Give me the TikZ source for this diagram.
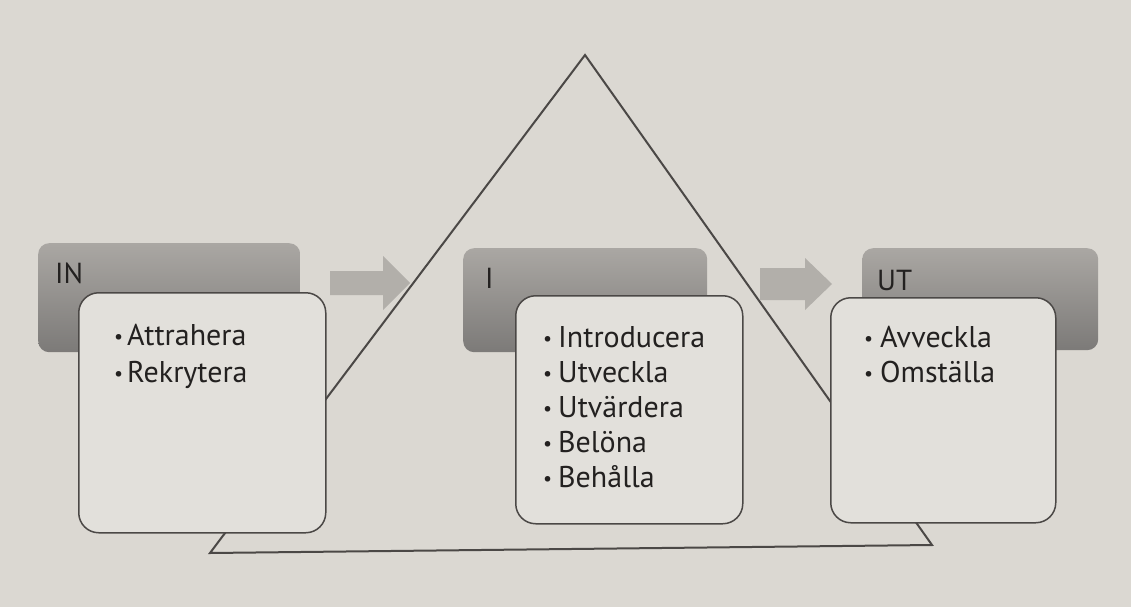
\documentclass[tikz,border=0pt]{standalone}
\usepackage{fontspec}
\setmainfont{PT Sans}
\definecolor{paper}{RGB}{219,216,210}
\definecolor{boxfill}{RGB}{226,224,219}
\definecolor{hdrtop}{RGB}{170,167,163}
\definecolor{hdrbot}{RGB}{124,122,120}
\definecolor{arrowfill}{RGB}{178,175,170}
\definecolor{linec}{RGB}{75,72,70}
\definecolor{textc}{RGB}{35,33,32}
\newcommand{\bul}[1]{\makebox[#1][l]{\raisebox{2pt}{\fontsize{20}{20}\selectfont •}}}
\begin{document}
\begin{tikzpicture}[x=1pt,y=-1pt,
  hdr/.style={rounded corners=11pt, top color=hdrtop, bottom color=hdrbot, draw=none,
    anchor=north west, inner sep=0pt},
  listbox/.style={rounded corners=20pt, fill=boxfill, draw=linec, line width=1.5pt,
    anchor=north west, inner sep=0pt},
  item/.style={anchor=base west, inner sep=0pt, text=textc, font=\fontsize{30}{34}\selectfont},
  hlabel/.style={anchor=base west, inner sep=0pt, text=textc, font=\fontsize{29}{34}\selectfont},
  tri/.style={draw=linec, line width=2pt, line join=miter},
  blockarrow/.style={fill=arrowfill, draw=none}
]
\useasboundingbox (0,0) rectangle (1131,607);
\fill[paper] (0,0) rectangle (1131,607);

% triangle
\coordinate (apex) at (585,55);
\coordinate (bl) at (210,553);
\coordinate (br) at (932,545);
\draw[tri] (apex) -- (bl) -- (br) -- cycle;

% block arrows
\coordinate (a1) at (330,271);
\fill[blockarrow] (a1) -- ++(53,0) -- ++(0,-15) -- ++(27,27) -- ++(-27,27) -- ++(0,-15) -- ++(-53,0) -- cycle;
\coordinate (a2) at (760,268);
\fill[blockarrow] (a2) -- ++(45,0) -- ++(0,-10) -- ++(27,26) -- ++(-27,26) -- ++(0,-10) -- ++(-45,0) -- cycle;

% headers
\node[hdr, minimum width=262pt, minimum height=109pt] (hin) at (38,243) {};
\node[hdr, minimum width=244pt, minimum height=104pt] (hi) at (463,248) {};
\node[hdr, minimum width=236pt, minimum height=102pt] (hut) at (862,248) {};
\node[hlabel] (lin) at (55,283) {IN};
\node[hlabel] (li) at (485,288) {I};
\node[hlabel] (lut) at (877,290) {UT};

% list boxes
\node[listbox, minimum width=247pt, minimum height=240pt] (bin) at (78,292) {};
\node[listbox, minimum width=227pt, minimum height=228pt] (bi) at (515,295) {};
\node[listbox, minimum width=225pt, minimum height=225pt] (but) at (830,297) {};

% items
\node[item] (in1) at (114,345) {\bul{13pt}Attrahera};
\node[item] (in2) at (114,382) {\bul{13pt}Rekrytera};

\node[item] (i1) at (543,347) {\bul{15pt}Introducera};
\node[item] (i2) at (543,382) {\bul{15pt}Utveckla};
\node[item] (i3) at (543,417) {\bul{15pt}Utvärdera};
\node[item] (i4) at (543,452) {\bul{15pt}Belöna};
\node[item] (i5) at (543,487) {\bul{15pt}Behålla};

\node[item] (ut1) at (864,347) {\bul{16pt}Avveckla};
\node[item] (ut2) at (864,382) {\bul{16pt}Omställa};
\end{tikzpicture}
\end{document}
